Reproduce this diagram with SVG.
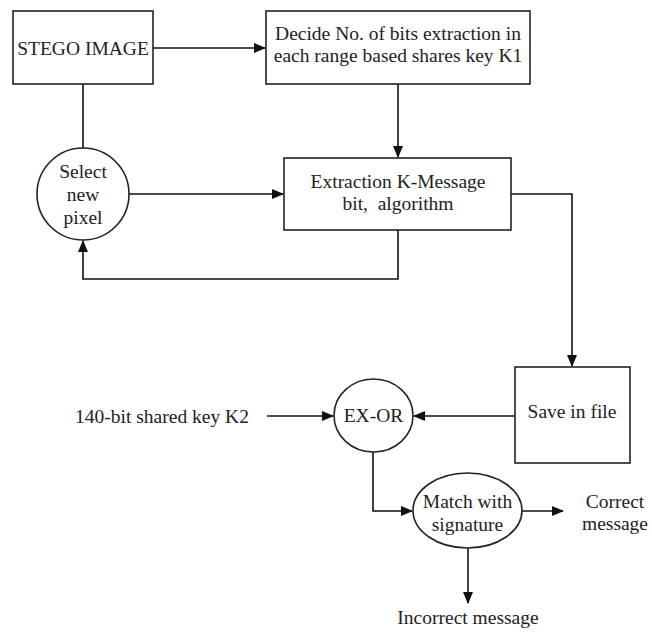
<svg xmlns="http://www.w3.org/2000/svg" width="652" height="632" viewBox="0 0 652 632">
  <style>
    .shape { fill: #fff; stroke: #222; stroke-width: 1.6; }
    .wire { fill: none; stroke: #111; stroke-width: 1.6; }
    .lbl { font-size: 19.5px; fill: #222; text-anchor: middle; }
  </style>
  <defs>
    <marker id="arrow" markerWidth="12" markerHeight="10" refX="11" refY="5" orient="auto" markerUnits="userSpaceOnUse">
      <path d="M0,0 L12,5 L0,10 Z" fill="#111"/>
    </marker>
  </defs>
  <rect width="652" height="632" fill="#fff"/>

  <g id="connectors">
    <path class="wire" d="M153,48 H265" marker-end="url(#arrow)"/>
    <path class="wire" d="M83,84 V148"/>
    <path class="wire" d="M398,84 V157" marker-end="url(#arrow)"/>
    <path class="wire" d="M129,194 H283" marker-end="url(#arrow)"/>
    <path class="wire" d="M398,230 V279 H83 V241" marker-end="url(#arrow)"/>
    <path class="wire" d="M511,194 H572 V366" marker-end="url(#arrow)"/>
    <path class="wire" d="M515,416 H414" marker-end="url(#arrow)"/>
    <path class="wire" d="M267,416 H333" marker-end="url(#arrow)"/>
    <path class="wire" d="M373,452 V511 H412" marker-end="url(#arrow)"/>
    <path class="wire" d="M522,511 H563" marker-end="url(#arrow)"/>
    <path class="wire" d="M468,548 V603" marker-end="url(#arrow)"/>
  </g>

  <g class="lbl" font-family="Liberation Serif, Tinos, DejaVu Serif, serif">
    <g id="stego-image">
      <rect class="shape" x="13" y="11" width="140" height="73"/>
      <text x="83" y="55">STEGO IMAGE</text>
    </g>

    <g id="decide-bits">
      <rect class="shape" x="266" y="11" width="264" height="73"/>
      <text x="398" y="40">Decide No. of bits extraction in</text>
      <text x="398" y="62">each range based shares key K1</text>
    </g>

    <g id="select-pixel">
      <circle class="shape" cx="83" cy="194" r="46"/>
      <text x="83" y="178">Select</text>
      <text x="83" y="201">new</text>
      <text x="83" y="224">pixel</text>
    </g>

    <g id="extraction">
      <rect class="shape" x="284" y="158" width="227" height="72"/>
      <text x="398" y="188">Extraction K-Message</text>
      <text x="398" y="210" xml:space="preserve">bit,  algorithm</text>
    </g>

    <g id="save-file">
      <rect class="shape" x="515" y="367" width="115" height="96"/>
      <text x="572" y="418">Save in file</text>
    </g>

    <g id="shared-key">
      <text x="162" y="423">140-bit shared key K2</text>
    </g>

    <g id="ex-or">
      <ellipse class="shape" cx="373.5" cy="415.5" rx="39.5" ry="36.5"/>
      <text x="373.5" y="422">EX-OR</text>
    </g>

    <g id="match-signature">
      <ellipse class="shape" cx="467.5" cy="510.5" rx="54.5" ry="37.5"/>
      <text x="467.5" y="508">Match with</text>
      <text x="467.5" y="531">signature</text>
    </g>

    <g id="correct-message">
      <text x="615" y="508">Correct</text>
      <text x="615" y="530">message</text>
    </g>

    <g id="incorrect-message">
      <text x="468" y="624">Incorrect message</text>
    </g>
  </g>
</svg>
